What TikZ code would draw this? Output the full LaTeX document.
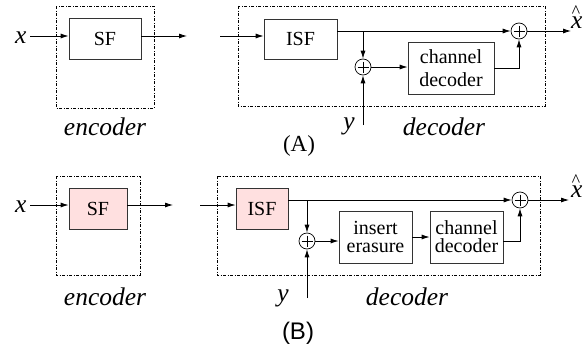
\documentclass[tikz,border=0pt]{standalone}
\usepackage{fontspec}
\setmainfont{Liberation Serif}
\newfontfamily\capsans{Liberation Sans}
\usetikzlibrary{arrows.meta}

\definecolor{sfpink}{RGB}{255,224,224}

% x with a raised caret, as in the decoder output
\newcommand{\xhatlbl}{x\llap{\raisebox{11pt}{\fontsize{18}{18}\selectfont\char`\^}\kern3.5pt}}

\tikzset{
  blk/.style={draw=black!80, line width=0.8pt, minimum width=#1, minimum height=41pt,
    inner sep=0pt, align=center, font=\fontsize{20}{22}\selectfont},
  frm/.style={draw, line width=0.6pt, dash pattern=on 3pt off 1.5pt on 1pt off 1.5pt},
  sumnode/.style={draw, circle, line width=0.7pt, minimum size=16pt, inner sep=0pt,
    path picture={\draw[line width=0.5pt]
      ([yshift=-2.5pt]path picture bounding box.north) -- ([yshift=2.5pt]path picture bounding box.south)
      ([xshift=2.5pt]path picture bounding box.west) -- ([xshift=-2.5pt]path picture bounding box.east);}},
  sig/.style={line width=0.8pt, -{Latex[length=8pt,width=5pt]}},
  lbl/.style={font=\fontsize{25.5}{26}\selectfont\itshape},
}

\begin{document}
\begin{tikzpicture}[x=1pt, y=-1pt]
  \useasboundingbox (0,0) rectangle (586,343);

  % ---------------- (A) ----------------
  \begin{scope}[]
    % encoder
    \draw[frm] (56,6) rectangle (154,108);
    \node[blk=72pt] (sfA) at (105,38.5) {SF};
    \coordinate (xinA) at (30,36);
    \coordinate (encoutA) at (187,36);
    \node[lbl, anchor=east] (xA) at ([yshift=-2pt]xinA) {x};
    \draw[sig] (xinA) -- (sfA.west |- xinA);
    \draw[sig] (sfA.east |- encoutA) -- (encoutA);
    \node[lbl] (encA) at (105,127) {encoder};

    % decoder
    \draw[frm] (238,6) rectangle (545,106);
    \coordinate (decinA) at (220,36);
    \node[blk=73pt, minimum height=40pt] (isfA) at (300.5,39) {ISF};
    \node[sumnode] (sumA) at (519,31) {};
    \node[sumnode] (addA) at (363,67) {};
    \node[blk=86pt, minimum height=52pt, font=\fontsize{20}{23}\selectfont] (chdA) at (451,68) {channel\\decoder};
    \coordinate (brA) at (363,31);
    \coordinate (yinA) at (363,125);
    \coordinate (xhoutA) at (571,31);

    \draw[sig] (decinA) -- (isfA.west |- decinA);
    \draw[sig] (isfA.east |- sumA) -- (sumA.west);
    \draw[sig] (brA) -- (addA.north);
    \draw[sig] (yinA) -- (addA.south);
    \draw[sig] (addA.east) -- (chdA.west |- addA);
    \draw[sig] (chdA.east) -| (sumA.south);
    \draw[sig] (sumA.east) -- (xhoutA);

    \node[lbl, anchor=base west, inner sep=0pt] (xhA) at (571,28) {\xhatlbl};
    \node[lbl] (yA) at (349,126) {y};
    \node[lbl] (decA) at (444,127) {decoder};
    \node[font=\fontsize{23}{24}\selectfont] (capA) at (299,146) {(A)};
  \end{scope}

  % ---------------- (B) ----------------
  \begin{scope}[]
    % encoder
    \draw[frm] (56,176) rectangle (140,275);
    \node[blk=58pt, fill=sfpink] (sfB) at (98,208.5) {SF};
    \coordinate (xinB) at (30,205);
    \coordinate (encoutB) at (173,205);
    \node[lbl, anchor=east] (xB) at ([yshift=-2pt]xinB) {x};
    \draw[sig] (xinB) -- (sfB.west |- xinB);
    \draw[sig] (sfB.east |- encoutB) -- (encoutB);
    \node[lbl] (encB) at (105,297) {encoder};

    % decoder
    \draw[frm] (217,176) rectangle (540,275);
    \coordinate (decinB) at (200,205);
    \node[blk=52pt, fill=sfpink] (isfB) at (262,208.5) {ISF};
    \node[sumnode] (sumB) at (520,200) {};
    \node[sumnode] (addB) at (307,241) {};
    \node[blk=73pt, minimum height=52pt, font=\fontsize{20}{18}\selectfont] (eraB) at (375.5,237) {insert\\erasure};
    \node[blk=73pt, minimum height=52pt, font=\fontsize{20}{18}\selectfont] (chdB) at (466.5,237) {channel\\decoder};
    \coordinate (brB) at (307,200);
    \coordinate (yinB) at (307,298);
    \coordinate (xhoutB) at (569,200);

    \draw[sig] (decinB) -- (isfB.west |- decinB);
    \draw[sig] (isfB.east |- sumB) -- (sumB.west);
    \draw[sig] (brB) -- (addB.north);
    \draw[sig] (yinB) -- (addB.south);
    \draw[sig] (addB.east) -- (eraB.west |- addB);
    \draw[sig] (eraB.east) -- (chdB.west);
    \draw[sig] (chdB.east |- addB) -| (sumB.south);
    \draw[sig] (sumB.east) -- (xhoutB);

    \node[lbl, anchor=base west, inner sep=0pt] (xhB) at (571,197) {\xhatlbl};
    \node[lbl] (yB) at (283,298) {y};
    \node[lbl] (decB) at (407,297) {decoder};
    \node[font=\capsans\fontsize{24}{25}\selectfont, inner sep=0pt] (capB) at (298,333) {(B)};
  \end{scope}
\end{tikzpicture}
\end{document}
